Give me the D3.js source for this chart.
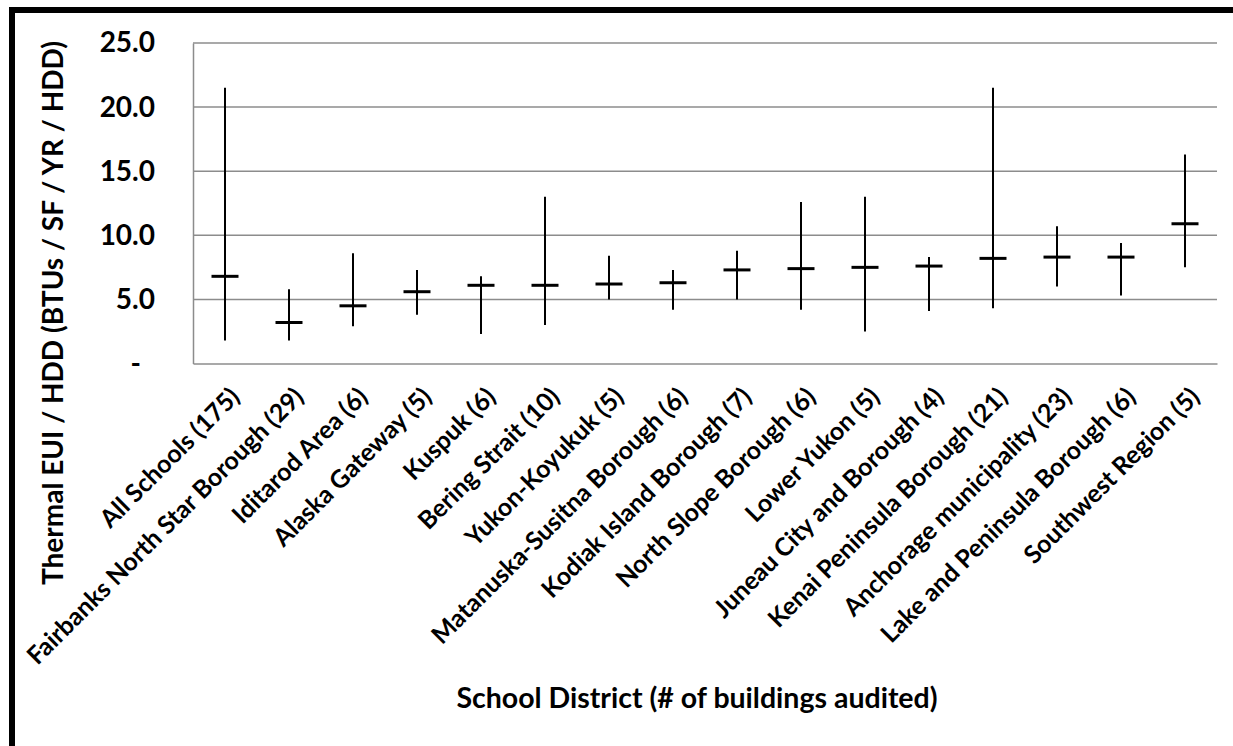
<!DOCTYPE html>
<html>
<head>
<meta charset="utf-8">
<script src="https://cdn.jsdelivr.net/npm/d3@7"></script>
<style>
  html, body { margin: 0; padding: 0; background: #fff; }
  svg { display: block; }
  text { font-family: Lato, "Open Sans", sans-serif; font-weight: 700; fill: #000; }
</style>
</head>
<body>
<svg id="chart" width="1233" height="746"></svg>
<script>
// School districts with the number of buildings audited
const categories = [
  "All Schools (175)",
  "Fairbanks North Star Borough (29)",
  "Iditarod Area (6)",
  "Alaska Gateway (5)",
  "Kuspuk (6)",
  "Bering Strait (10)",
  "Yukon-Koyukuk (5)",
  "Matanuska-Susitna Borough (6)",
  "Kodiak Island Borough (7)",
  "North Slope Borough (6)",
  "Lower Yukon (5)",
  "Juneau City and Borough (4)",
  "Kenai Peninsula Borough (21)",
  "Anchorage municipality (23)",
  "Lake and Peninsula Borough (6)",
  "Southwest Region (5)"
];

// Thermal EUI / HDD per district: average, minimum and maximum
const meanValues = [6.8, 3.2, 4.5, 5.6, 6.1, 6.1, 6.2, 6.3, 7.3, 7.4, 7.5, 7.6, 8.2, 8.3, 8.3, 10.9];
const lowValues  = [1.8, 1.8, 2.9, 3.8, 2.3, 3.0, 5.0, 4.2, 5.0, 4.2, 2.5, 4.1, 4.3, 6.0, 5.3, 7.5];
const highValues = [21.5, 5.8, 8.6, 7.3, 6.8, 13.0, 8.4, 7.3, 8.8, 12.6, 13.0, 8.3, 21.5, 10.7, 9.4, 16.3];

const yTicks = [0, 5, 10, 15, 20, 25];
const yTitle = "Thermal EUI / HDD (BTUs / SF / YR / HDD)";
const xTitle = "School District (# of buildings audited)";

const rows = categories.map((c, i) => ({
  name: c, mean: meanValues[i], low: lowValues[i], high: highValues[i]
}));

const svg = d3.select("#chart");
const plot = { left: 193, right: 1217, top: 43, bottom: 363.5 };

const x = d3.scaleBand().domain(categories).range([plot.left, plot.right]).padding(0);
const y = d3.scaleLinear().domain([0, 25]).range([plot.bottom, plot.top]);

// outer frame
svg.append("rect")
  .attr("x", 12).attr("y", 10)
  .attr("width", 1400).attr("height", 900)
  .attr("fill", "none").attr("stroke", "#000").attr("stroke-width", 6);

// horizontal gridlines
svg.append("g")
  .selectAll("line")
  .data(yTicks.filter(t => t > 0))
  .join("line")
  .attr("x1", plot.left).attr("x2", plot.right)
  .attr("y1", d => y(d)).attr("y2", d => y(d))
  .attr("stroke", "#8c8c8c").attr("stroke-width", 1.5);

// y axis
const yAxis = d3.axisLeft(y)
  .tickValues(yTicks)
  .tickSize(0)
  .tickPadding(38)
  .tickFormat(d => d === 0 ? "-" : d3.format(".1f")(d));

const gy = svg.append("g")
  .attr("transform", `translate(${plot.left},0)`)
  .call(yAxis);
gy.select(".domain").attr("stroke", "#8c8c8c").attr("stroke-width", 1.5);
gy.selectAll(".tick text")
  .attr("font-size", 28)
  .attr("font-family", "Lato, sans-serif")
  .attr("font-weight", 700)
  .attr("dx", d => d === 0 ? -14 : 0);

// x axis
const xAxis = d3.axisBottom(x).tickSize(0).tickFormat(d => d);
const gx = svg.append("g")
  .attr("transform", `translate(0,${plot.bottom})`)
  .call(xAxis);
gx.select(".domain").attr("stroke", "#8c8c8c").attr("stroke-width", 1.5);
gx.selectAll(".tick text")
  .attr("font-size", 25)
  .attr("font-family", "Lato, sans-serif")
  .attr("font-weight", 700)
  .attr("text-anchor", "end")
  .attr("x", 0).attr("y", 0).attr("dy", 0)
  .attr("transform", "translate(16,35) rotate(-45)");

// range whiskers
const marks = svg.append("g");
marks.selectAll("line.range")
  .data(rows)
  .join("line")
  .attr("class", "range")
  .attr("x1", d => x(d.name) + x.bandwidth() / 2)
  .attr("x2", d => x(d.name) + x.bandwidth() / 2)
  .attr("y1", d => y(d.low))
  .attr("y2", d => y(d.high))
  .attr("stroke", "#000").attr("stroke-width", 2);

// average ticks
marks.selectAll("line.mean")
  .data(rows)
  .join("line")
  .attr("class", "mean")
  .attr("x1", d => x(d.name) + x.bandwidth() / 2 - 13.5)
  .attr("x2", d => x(d.name) + x.bandwidth() / 2 + 13.5)
  .attr("y1", d => y(d.mean))
  .attr("y2", d => y(d.mean))
  .attr("stroke", "#000").attr("stroke-width", 3);

// axis titles
svg.append("text")
  .attr("transform", "translate(63,313) rotate(-90)")
  .attr("text-anchor", "middle")
  .attr("font-size", 28)
  .text(yTitle);

svg.append("text")
  .attr("x", 697).attr("y", 708)
  .attr("text-anchor", "middle")
  .attr("font-size", 28.5)
  .text(xTitle);
</script>
</body>
</html>
